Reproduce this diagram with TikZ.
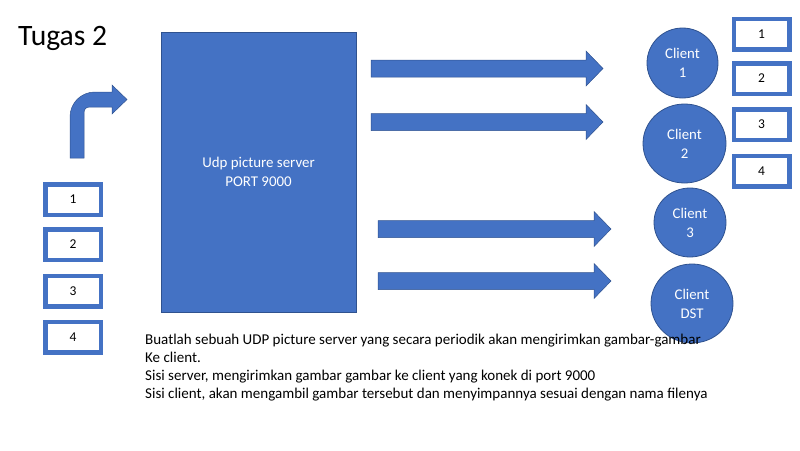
\documentclass[tikz,border=0pt]{standalone}
\usepackage{fontspec}
\setmainfont{Carlito}
\usetikzlibrary{positioning,shapes.geometric}
\definecolor{officeblue}{HTML}{4472C4}
\definecolor{edgeblue}{HTML}{2F528F}

\begin{document}
\begin{tikzpicture}[x=1pt,y=-1pt,
    server/.style={fill=officeblue,draw=edgeblue,line width=0.8pt,text=white,
      align=center,minimum width=195pt,minimum height=280pt,
      font=\fontsize{14.9}{19}\selectfont},
    client/.style={ellipse,fill=officeblue,draw=edgeblue,line width=0.8pt,
      text=white,align=center,inner sep=0pt,
      font=\fontsize{14.8}{19}\selectfont},
    numbox/.style={draw=officeblue,line width=4.5pt,fill=white,
      minimum width=55.5pt,minimum height=30.5pt,inner sep=0pt,
      font=\fontsize{13.5}{15}\selectfont},
    blockarrow/.style={fill=officeblue,draw=edgeblue,line width=0.5pt}]
    \useasboundingbox (0,0) rectangle (800,450);

    % Title
    \node[anchor=base west,inner sep=0pt,font=\fontsize{29.6}{34}\selectfont] (title) at (18,45) {Tugas 2};

    % The server
    \node[server] (server) at (258.5,172) {Udp picture server\\PORT 9000};

    % Bent arrow into the server
    \fill[blockarrow] (70,158) -- (70,117) .. controls (70,103) and (81,92) .. (95,92)
        -- (112,92) -- (112,85) -- (127,99.5) -- (112,114) -- (112,107) -- (90,107)
        .. controls (86,107) and (84,109) .. (84,113) -- (84,158) -- cycle;

    % Pictures waiting at the server
    \foreach \n/\y in {1/199.5,2/244.5,3/291,4/337}
        \node[numbox] (left\n) at (73,\y) {\n};

    % Sending to the clients
    \foreach \ya/\xa/\xb in {68.5/371/603,122/371/603,229/378/611,281/378/611}
        \fill[blockarrow] (\xa,\ya-8.5) -- (\xb-17,\ya-8.5) -- (\xb-17,\ya-17.5)
            -- (\xb,\ya) -- (\xb-17,\ya+17.5) -- (\xb-17,\ya+8.5) -- (\xa,\ya+8.5) -- cycle;

    % The clients
    \node[client,minimum width=71pt,minimum height=70pt] (client1) at (682.5,63) {Client\\1};
    \node[client,minimum width=83pt,minimum height=79pt] (client2) at (684.5,143.5) {Client\\2};
    \node[client,minimum width=72pt,minimum height=69pt] (client3) at (690,222.5) {Client\\3};
    \node[client,minimum width=82pt,minimum height=79pt] (clientdst) at (692,303.5) {Client\\DST};

    % Pictures received by the clients
    \foreach \n/\y in {1/34,2/78.5,3/124.5,4/171}
        \node[numbox] (right\n) at (761.5,\y) {\n};

    % Task description
    \foreach \line [count=\i] in {{Buatlah sebuah UDP picture server yang secara periodik akan mengirimkan gambar-gambar},
        {Ke client.},
        {Sisi server, mengirimkan gambar gambar ke client yang konek di port 9000},
        {Sisi client, akan mengambil gambar tersebut dan menyimpannya sesuai dengan nama filenya}}
        \node[anchor=base west,inner sep=0pt,font=\fontsize{15}{18}\selectfont] (desc\i) at (145,326+18*\i) {\line};
\end{tikzpicture}
\end{document}
